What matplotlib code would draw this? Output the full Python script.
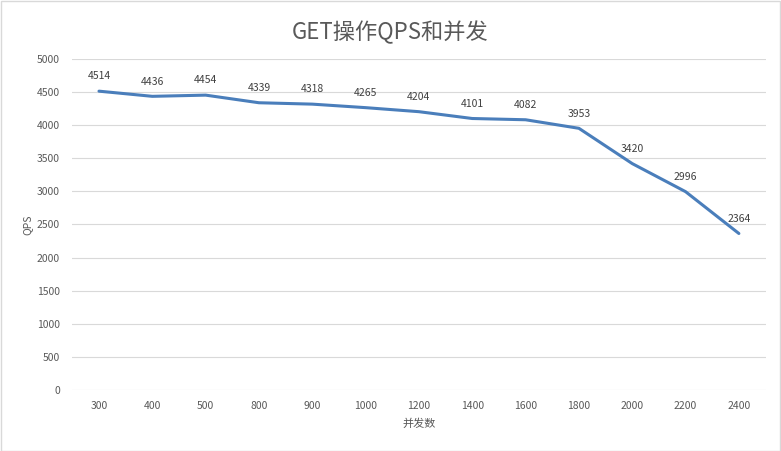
import matplotlib
matplotlib.use('Agg')
import matplotlib.pyplot as plt
from matplotlib.patches import Rectangle

plt.rcParams['font.family'] = ['Noto Sans CJK SC', 'DejaVu Sans']

concurrency = ['300', '400', '500', '800', '900', '1000', '1200', '1400', '1600', '1800', '2000', '2200', '2400']
qps = [4514, 4436, 4454, 4339, 4318, 4265, 4204, 4101, 4082, 3953, 3420, 2996, 2364]

text_color = '#595959'
line_color = '#4a7ebb'

fig = plt.figure(figsize=(7.81, 4.51), dpi=100)
ax = fig.add_axes([0.0926, 0.1353, 0.8876, 0.7339])

x = list(range(len(concurrency)))
ax.plot(x, qps, color=line_color, linewidth=2.2, solid_capstyle='round', zorder=3)
for xi, v in zip(x, qps):
    ax.annotate(str(v), (xi, v), xytext=(0, 7), textcoords='offset points',
                ha='center', va='bottom', fontsize=7.5, color='#404040')

ax.set_xlim(-0.5, len(concurrency) - 0.5)
ax.set_ylim(0, 5000)
ax.set_yticks(range(0, 5001, 500))
ax.set_xticks(x)
ax.set_xticklabels(concurrency)
ax.grid(axis='y', color='#d9d9d9', linewidth=0.8)
ax.set_axisbelow(True)
for s in ax.spines.values():
    s.set_visible(False)
ax.tick_params(length=0, labelsize=7.5, colors=text_color, pad=8)
ax.tick_params(axis='y', pad=9)

ax.set_ylabel('QPS', fontsize=7.5, color=text_color, labelpad=3)
ax.set_xlabel('并发数', fontsize=8, color=text_color, labelpad=5)
fig.suptitle('GET操作QPS和并发', fontsize=16, color=text_color, y=0.955)

fig.patches.append(Rectangle((0.001, 0.001), 0.998, 0.997, transform=fig.transFigure,
                             fill=False, edgecolor='#d9d9d9', linewidth=1))

fig.savefig('out.png', dpi=100)
